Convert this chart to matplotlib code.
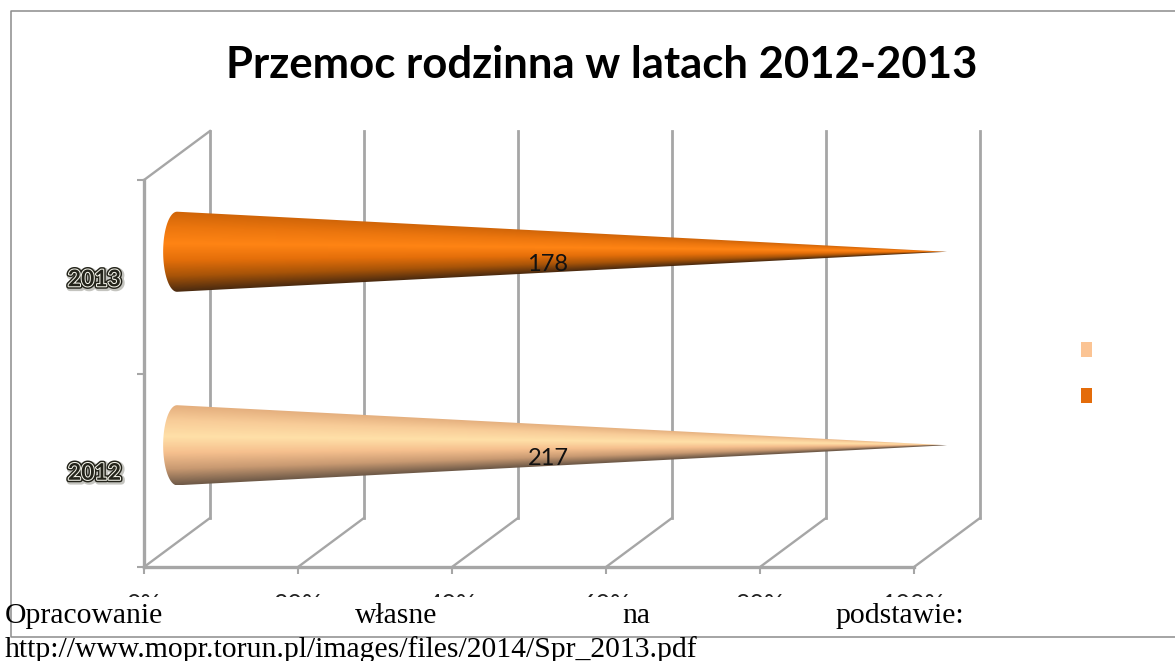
import numpy as np
import matplotlib
matplotlib.use("Agg")
import matplotlib.pyplot as plt
import matplotlib.patheffects as pe
from matplotlib.colors import LinearSegmentedColormap
from matplotlib.patches import Polygon, Rectangle
from matplotlib.transforms import Affine2D

# Data
TITLE = "Przemoc rodzinna w latach 2012-2013"
years = ["2012", "2013"]
counts = [217, 178]
shares = [100, 100]
pct_ticks = [0, 20, 40, 60, 80, 100]
pct_labels = ["0%", "20%", "40%", "60%", "80%", "100%"]
footer_words = ["Opracowanie", "własne", "na", "podstawie:"]
footer_url = "http://www.mopr.torun.pl/images/files/2014/Spr_2013.pdf"

W, H = 1175, 661
GREY = "#a6a6a6"
LEGEND_COLORS = ["#fbc494", "#e46c0a"]
# top of the cone to the bottom
CONE_STOPS = [
    ["#e3ad7c", "#f8cc98", "#ffe0a8", "#f6c08e", "#c99a72", "#6f5a48"],
    ["#cf6408", "#ec760e", "#ff8414", "#e56f0a", "#a85408", "#4a2a10"],
]


def depth(ax, dx, dy):
    """Shift a data transform by some pixels, for the fake 3D depth."""
    return ax.transData + Affine2D().translate(dx, dy)


def draw_cone(fig, ax, y, share, stops):
    """One cone pointing right, shaded across its height."""
    half_w, half_h = 1.8, 0.207
    trans = depth(ax, 33, 25)

    xs = np.linspace(-half_w, share, 900)
    ys = np.linspace(-half_h, half_h, 240)
    gx, gy = np.meshgrid(xs, ys)
    taper = np.clip(1 - gx / share, 0.004, 1)
    shade = np.clip((1 - gy / (half_h * taper)) / 2, 0, 1)

    cmap = LinearSegmentedColormap.from_list("cone", stops)
    im = ax.imshow(
        shade,
        cmap=cmap,
        vmin=0,
        vmax=1,
        origin="lower",
        aspect="auto",
        extent=(-half_w, share, y - half_h, y + half_h),
        transform=trans,
        zorder=3,
    )

    t = np.linspace(np.pi / 2, -np.pi / 2, 40)
    outline = np.column_stack(
        [-half_w * np.cos(t), y + half_h * np.sin(t)]
    )
    outline = np.vstack([outline, [share, y]])
    clip = Polygon(outline, closed=True, transform=trans, fc="none", ec="none")
    ax.add_patch(clip)
    im.set_clip_path(clip)
    im.set_clip_box(fig.bbox)  # the tip goes past the front plane


def main() -> None:
    fig = plt.figure(figsize=(W / 100, H / 100), dpi=100, facecolor="white")

    # Front plane of the chart, placed in pixels
    ax = fig.add_axes(
        [144 / W, (H - 567) / H, 770 / W, 387 / H], facecolor="none"
    )
    ax.set_zorder(1)

    # Walls: back gridlines and the diagonals going to them
    back = depth(ax, 66, 49)
    for x in pct_ticks:
        ax.plot([x, x], [0, 2], color=GREY, lw=2, transform=back, clip_on=False, zorder=1)
        ax.plot(
            [x, x + 66 * 100 / 770],
            [0, 49 * 2 / 387],
            color=GREY,
            lw=1.7,
            clip_on=False,
            zorder=1,
        )
    ax.plot([0, 66 * 100 / 770], [2, 2 + 49 * 2 / 387], color=GREY, lw=1.7, clip_on=False, zorder=1)

    for i, year in enumerate(years):
        draw_cone(fig, ax, i + 0.5, shares[i], CONE_STOPS[i])
        ax.text(
            50,
            i + 0.5,
            str(counts[i]),
            transform=depth(ax, 19, 12),
            ha="center",
            va="center",
            fontsize=17,
            family="Lato",
            color="#111111",
            zorder=5,
        )
        ax.text(
            -3,
            i + 0.5,
            year,
            transform=depth(ax, 0, -3),
            ha="right",
            va="center",
            fontsize=16.5,
            family="Lato",
            fontweight="bold",
            color="#23231a",
            zorder=5,
            path_effects=[
                pe.Stroke(linewidth=5, foreground="#8a8a80", alpha=0.5, offset=(1, -1)),
                pe.Stroke(linewidth=3.6, foreground="#23231a"),
                pe.Stroke(linewidth=1.5, foreground="#f4f4ea"),
                pe.Normal(),
            ],
        )

    ax.set_xlim(0, 100)
    ax.set_ylim(0, 2)
    ax.set_xticks(pct_ticks, pct_labels, family="Lato", fontsize=18, color="#222222")
    ax.set_yticks([0, 1, 2], [])
    ax.tick_params(axis="both", color=GREY, width=1.5, length=5, pad=14)
    for side in ["top", "right"]:
        ax.spines[side].set_visible(False)
    for side in ["left", "bottom"]:
        ax.spines[side].set_color(GREY)
        ax.spines[side].set_linewidth(2.4)

    # Page layer in pixels: frame, title, legend keys and the text pasted on top
    page = fig.add_axes([0, 0, 1, 1], facecolor="none")
    page.set_zorder(2)
    page.set_xlim(0, W)
    page.set_ylim(H, 0)
    page.axis("off")

    page.add_patch(Rectangle((0, 597), W, H - 597, fc="white", ec="none", zorder=1))
    page.plot([W, 11, 11, W], [11, 11, 637, 637], color="#8c8c8c", lw=1.1, zorder=2)

    page.text(602, 65, TITLE, ha="center", va="center", fontsize=31.4, family="Lato", fontweight="bold", color="black")

    for color, top in zip(LEGEND_COLORS, [342, 388]):
        page.add_patch(Rectangle((1081, top), 11, 15, fc=color, ec="none"))

    for word, left in zip(footer_words, [5, 355, 622, 835]):
        page.text(left, 623, word, ha="left", va="baseline", fontsize=21.3, family="Liberation Serif", color="black", zorder=3)
    page.text(5, 657, footer_url, ha="left", va="baseline", fontsize=21.3, family="Liberation Serif", color="black", zorder=3)

    fig.savefig("out.png", dpi=100)


if __name__ == "__main__":
    main()
